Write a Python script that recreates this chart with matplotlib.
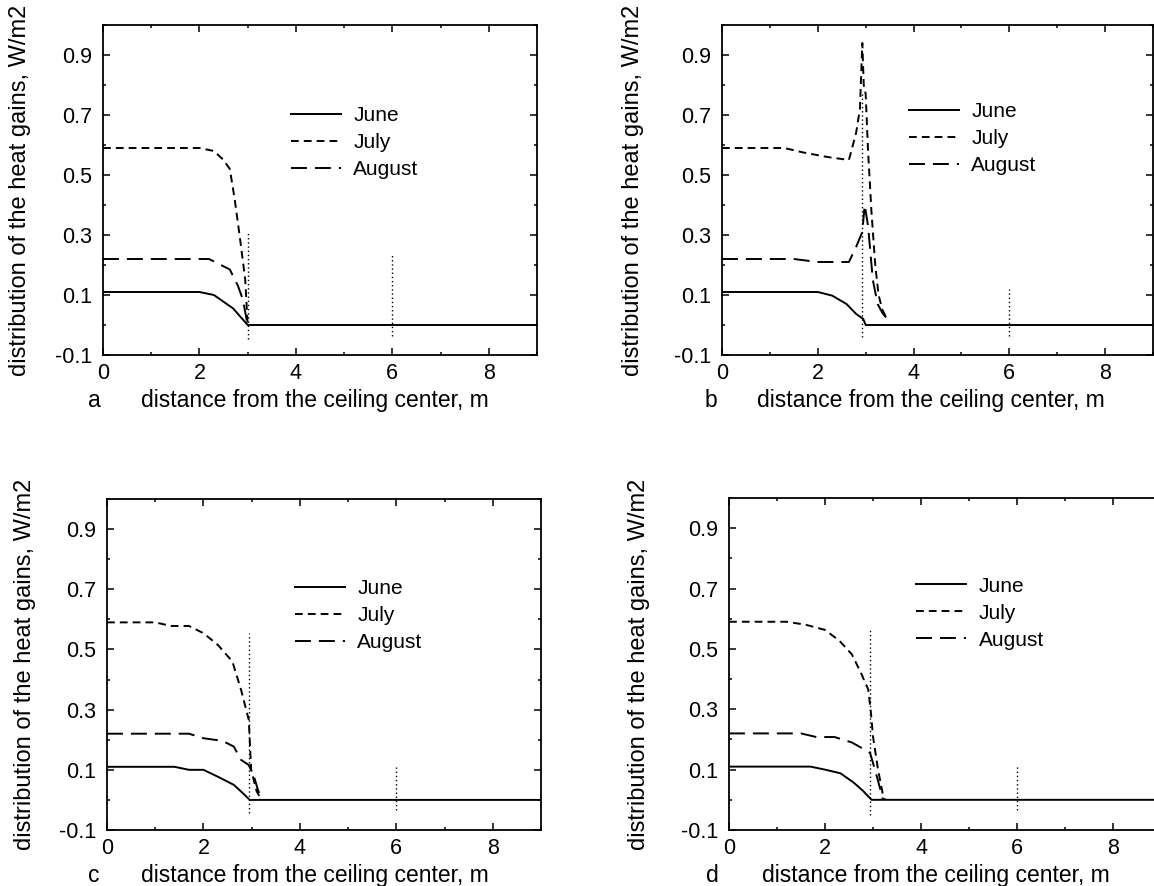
import matplotlib.pyplot as plt
from matplotlib.ticker import MultipleLocator, FormatStrFormatter

plt.rcParams['font.family'] = ['Liberation Sans', 'DejaVu Sans']

months = ['June', 'July', 'August']
panel_letters = ['a', 'b', 'c', 'd']

# panel a
a_june_x = [0, 2.0, 2.3, 2.7, 3.0, 9.0]
a_june_y = [0.11, 0.11, 0.10, 0.055, 0.0, 0.0]
a_july_x = [0, 2.0, 2.3, 2.5, 2.63, 2.73, 2.84, 2.95, 3.0]
a_july_y = [0.59, 0.59, 0.58, 0.55, 0.52, 0.42, 0.29, 0.15, 0.0]
a_aug_x = [0, 2.2, 2.63, 2.8, 2.9, 3.0]
a_aug_y = [0.22, 0.22, 0.185, 0.13, 0.085, 0.0]

# panel b
b_june_x = [0, 2.0, 2.3, 2.6, 2.8, 2.95, 3.0, 9.0]
b_june_y = [0.11, 0.11, 0.098, 0.07, 0.037, 0.02, 0.0, 0.0]
b_july_x = [0, 1.3, 1.7, 2.2, 2.65, 2.8, 2.88, 2.93, 2.96, 3.0, 3.05, 3.12, 3.2, 3.27, 3.35, 3.45]
b_july_y = [0.59, 0.59, 0.575, 0.56, 0.55, 0.64, 0.72, 0.94, 0.80, 0.77, 0.58, 0.38, 0.20, 0.10, 0.05, 0.02]
b_aug_x = [0, 1.5, 2.0, 2.65, 2.8, 2.93, 2.98, 3.05, 3.15, 3.25, 3.35, 3.45]
b_aug_y = [0.22, 0.22, 0.21, 0.21, 0.26, 0.31, 0.40, 0.33, 0.15, 0.07, 0.04, 0.02]

# panel c
c_june_x = [0, 1.4, 1.7, 2.0, 2.3, 2.63, 2.82, 2.96, 9.0]
c_june_y = [0.11, 0.11, 0.10, 0.10, 0.077, 0.05, 0.022, 0.0, 0.0]
c_july_x = [0, 1.0, 1.33, 1.7, 2.0, 2.3, 2.6, 2.78, 2.94, 2.99, 3.1, 3.2]
c_july_y = [0.59, 0.59, 0.578, 0.578, 0.554, 0.515, 0.46, 0.366, 0.266, 0.10, 0.03, 0.0]
c_aug_x = [0, 1.7, 2.0, 2.4, 2.63, 2.78, 2.94, 3.05, 3.13, 3.22]
c_aug_y = [0.22, 0.22, 0.205, 0.196, 0.177, 0.133, 0.116, 0.077, 0.033, 0.0]

# panel d
d_june_x = [0, 1.7, 2.0, 2.32, 2.59, 2.79, 2.97, 9.0]
d_june_y = [0.11, 0.11, 0.10, 0.088, 0.058, 0.03, 0.0, 0.0]
d_july_x = [0, 1.2, 1.6, 2.0, 2.3, 2.56, 2.75, 2.9, 2.95, 3.0, 3.1, 3.2, 3.25]
d_july_y = [0.59, 0.59, 0.58, 0.563, 0.527, 0.482, 0.42, 0.366, 0.30, 0.21, 0.105, 0.022, 0.0]
d_aug_x = [0, 1.5, 1.82, 2.2, 2.56, 2.75, 2.94, 3.0, 3.1, 3.21]
d_aug_y = [0.22, 0.22, 0.208, 0.208, 0.19, 0.173, 0.155, 0.122, 0.066, 0.0]

# dotted markers: x, bottom, top
a_marks_x = [3.0, 6.0]
a_marks_lo = [-0.045, -0.035]
a_marks_hi = [0.31, 0.24]
b_marks_x = [2.92, 6.0]
b_marks_lo = [-0.04, -0.035]
b_marks_hi = [0.78, 0.12]
c_marks_x = [2.95, 6.0]
c_marks_lo = [-0.045, -0.035]
c_marks_hi = [0.555, 0.11]
d_marks_x = [2.93, 6.0]
d_marks_lo = [-0.05, -0.035]
d_marks_hi = [0.57, 0.112]

panels = [
    (a_june_x, a_june_y, a_july_x, a_july_y, a_aug_x, a_aug_y, a_marks_x, a_marks_lo, a_marks_hi),
    (b_june_x, b_june_y, b_july_x, b_july_y, b_aug_x, b_aug_y, b_marks_x, b_marks_lo, b_marks_hi),
    (c_june_x, c_june_y, c_july_x, c_july_y, c_aug_x, c_aug_y, c_marks_x, c_marks_lo, c_marks_hi),
    (d_june_x, d_june_y, d_july_x, d_july_y, d_aug_x, d_aug_y, d_marks_x, d_marks_lo, d_marks_hi),
]

W, H = 1154, 886
# axes boxes in pixels: left, top, width, height
boxes = [(103, 25, 434, 330), (722, 25, 431, 330), (107, 499, 434, 331), (729, 498, 432, 332)]
legend_y = [0.644, 0.656, 0.647, 0.653]
letter_x = [-0.021, -0.026, -0.031, -0.038]
label_x = [0.488, 0.484, 0.48, 0.478]
ylabel_x = [-0.166, -0.181, -0.164, -0.183]

fig = plt.figure(figsize=(W / 100, H / 100), dpi=100)

for i, p in enumerate(panels):
    l, t, w, h = boxes[i]
    ax = fig.add_axes([l / W, (H - t - h) / H, w / W, h / H])
    jx, jy, ux, uy, gx, gy, mx, mlo, mhi = p
    lw = 1.4
    ax.plot(jx, jy, color='black', lw=lw, label=months[0])
    ax.plot(ux, uy, color='black', lw=lw, dashes=(4, 2.6), label=months[1])
    ax.plot(gx, gy, color='black', lw=lw, dashes=(8.2, 4.1), label=months[2])
    ax.vlines(mx, mlo, mhi, colors='black', lw=1.0, linestyles=(0, (1, 2)))

    ax.set_xlim(0, 9)
    ax.set_ylim(-0.1, 1.0)
    ax.xaxis.set_major_locator(MultipleLocator(2))
    ax.xaxis.set_minor_locator(MultipleLocator(1))
    ax.set_yticks([-0.1, 0.1, 0.3, 0.5, 0.7, 0.9])
    ax.set_yticks([0.0, 0.2, 0.4, 0.6, 0.8, 1.0], minor=True)
    ax.yaxis.set_major_formatter(FormatStrFormatter('%.1f'))
    ax.xaxis.set_major_formatter(FormatStrFormatter('%d'))
    ax.tick_params(which='both', direction='in', top=True, right=True, width=1.1, labelsize=15.5)
    ax.tick_params(which='major', length=5)
    ax.tick_params(which='minor', length=2.5)
    ax.tick_params(axis='x', pad=6)
    ax.tick_params(axis='y', pad=8)
    for s in ax.spines.values():
        s.set_linewidth(1.3)

    ax.set_ylabel('distribution of the heat gains, W/m2', fontsize=17)
    ax.yaxis.set_label_coords(ylabel_x[i], 0.5)
    ax.text(label_x[i], -0.158, 'distance from the ceiling center, m', transform=ax.transAxes,
            ha='center', va='baseline', fontsize=16.5)
    ax.text(letter_x[i], -0.158, panel_letters[i], transform=ax.transAxes,
            ha='center', va='baseline', fontsize=16.5)

    ax.legend(frameon=False, loc='center left', bbox_to_anchor=(0.433, legend_y[i]),
              handlelength=2.4, handletextpad=0.6, labelspacing=0.38,
              borderpad=0, borderaxespad=0, fontsize=15)

fig.savefig('out.png', dpi=100)
